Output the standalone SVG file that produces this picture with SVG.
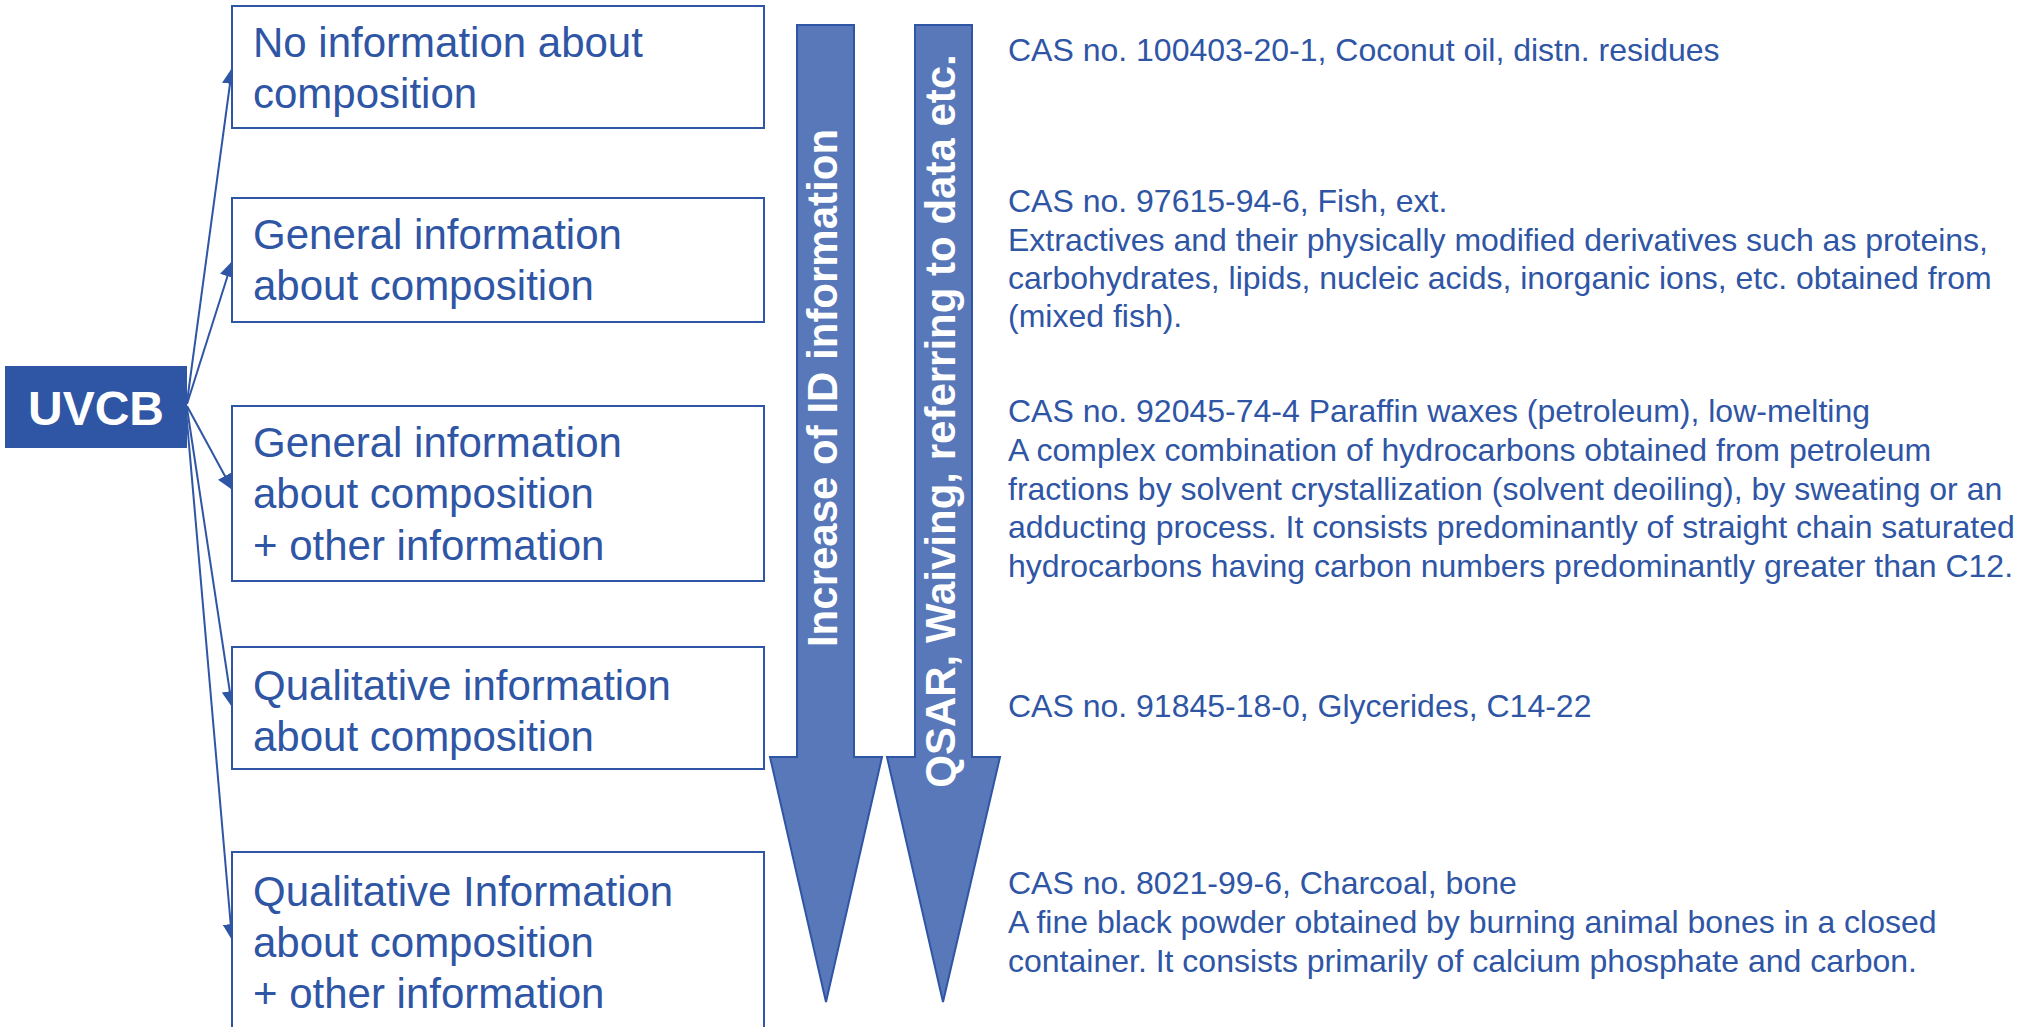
<svg xmlns="http://www.w3.org/2000/svg" width="2029" height="1027" viewBox="0 0 2029 1027">
<style>
.bg{fill:#ffffff}
.box{fill:#ffffff;stroke:#2F55A5;stroke-width:2}
.bt{font-family:"Liberation Sans",Arial,sans-serif;font-size:42px;fill:#2F55A5}
.rt{font-family:"Liberation Sans",Arial,sans-serif;font-size:32px;fill:#2F55A5}
.big{fill:#5878BA;stroke:#2F55A5;stroke-width:2}
.at{font-family:"Liberation Sans",Arial,sans-serif;font-size:42px;font-weight:bold;fill:#ffffff}
.con{fill:none;stroke:#2F55A5;stroke-width:2}
</style>
<defs>
<marker id="ah" markerUnits="userSpaceOnUse" markerWidth="16" markerHeight="16" viewBox="0 0 14 14" refX="13" refY="7" orient="auto">
<path d="M0,0 L14,7 L0,14 z" fill="#2F55A5"/>
</marker>
</defs>
<rect class="bg" x="0" y="0" width="2029" height="1027"/>

<g id="connectors">
<line class="con" x1="187" y1="402" x2="232" y2="69" marker-end="url(#ah)"/>
<line class="con" x1="187" y1="404" x2="232" y2="262" marker-end="url(#ah)"/>
<line class="con" x1="187" y1="406" x2="232" y2="489" marker-end="url(#ah)"/>
<line class="con" x1="187" y1="408" x2="232" y2="706" marker-end="url(#ah)"/>
<line class="con" x1="186" y1="410" x2="232" y2="939" marker-end="url(#ah)"/>
</g>

<g id="uvcb">
<rect x="5" y="366" width="182" height="82" fill="#2F55A5"/>
<text x="96" y="425" text-anchor="middle" font-family="'Liberation Sans',Arial,sans-serif" font-size="48" font-weight="bold" fill="#ffffff">UVCB</text>
</g>

<g id="box1">
<rect class="box" x="232" y="6" width="532" height="122"/>
<text class="bt" x="253" y="57">No information about</text>
<text class="bt" x="253" y="108">composition</text>
</g>
<g id="box2">
<rect class="box" x="232" y="198" width="532" height="124"/>
<text class="bt" x="253" y="249">General information</text>
<text class="bt" x="253" y="300">about composition</text>
</g>
<g id="box3">
<rect class="box" x="232" y="406" width="532" height="175"/>
<text class="bt" x="253" y="457">General information</text>
<text class="bt" x="253" y="508">about composition</text>
<text class="bt" x="253" y="560">+ other information</text>
</g>
<g id="box4">
<rect class="box" x="232" y="647" width="532" height="122"/>
<text class="bt" x="253" y="700">Qualitative information</text>
<text class="bt" x="253" y="751">about composition</text>
</g>
<g id="box5">
<rect class="box" x="232" y="852" width="532" height="190"/>
<text class="bt" x="253" y="906">Qualitative Information</text>
<text class="bt" x="253" y="957">about composition</text>
<text class="bt" x="253" y="1008">+ other information</text>
</g>

<g id="arrow1">
<path class="big" d="M797,25 L854,25 L854,757 L882,757 L826,1002 L770,757 L797,757 Z"/>
<text class="at" transform="translate(837,388) rotate(-90)" text-anchor="middle">Increase of ID information</text>
</g>
<g id="arrow2">
<path class="big" d="M915,25 L972,25 L972,757 L1000,757 L943,1002 L887,757 L915,757 Z"/>
<text class="at" transform="translate(955,421) rotate(-90)" text-anchor="middle">QSAR, Waiving, referring to data etc.</text>
</g>

<g id="ex1">
<text class="rt" x="1008" y="61">CAS no. 100403-20-1, Coconut oil, distn. residues</text>
</g>
<g id="ex2">
<text class="rt" x="1008" y="212">CAS no. 97615-94-6, Fish, ext.</text>
<text class="rt" x="1008" y="251">Extractives and their physically modified derivatives such as proteins,</text>
<text class="rt" x="1008" y="289">carbohydrates, lipids, nucleic acids, inorganic ions, etc. obtained from</text>
<text class="rt" x="1008" y="327">(mixed fish).</text>
</g>
<g id="ex3">
<text class="rt" x="1008" y="422">CAS no. 92045-74-4 Paraffin waxes (petroleum), low-melting</text>
<text class="rt" x="1008" y="461">A complex combination of hydrocarbons obtained from petroleum</text>
<text class="rt" x="1008" y="500">fractions by solvent crystallization (solvent deoiling), by sweating or an</text>
<text class="rt" x="1008" y="538">adducting process. It consists predominantly of straight chain saturated</text>
<text class="rt" x="1008" y="577">hydrocarbons having carbon numbers predominantly greater than C12.</text>
</g>
<g id="ex4">
<text class="rt" x="1008" y="717">CAS no. 91845-18-0, Glycerides, C14-22</text>
</g>
<g id="ex5">
<text class="rt" x="1008" y="894">CAS no. 8021-99-6, Charcoal, bone</text>
<text class="rt" x="1008" y="933">A fine black powder obtained by burning animal bones in a closed</text>
<text class="rt" x="1008" y="972">container. It consists primarily of calcium phosphate and carbon.</text>
</g>
</svg>
